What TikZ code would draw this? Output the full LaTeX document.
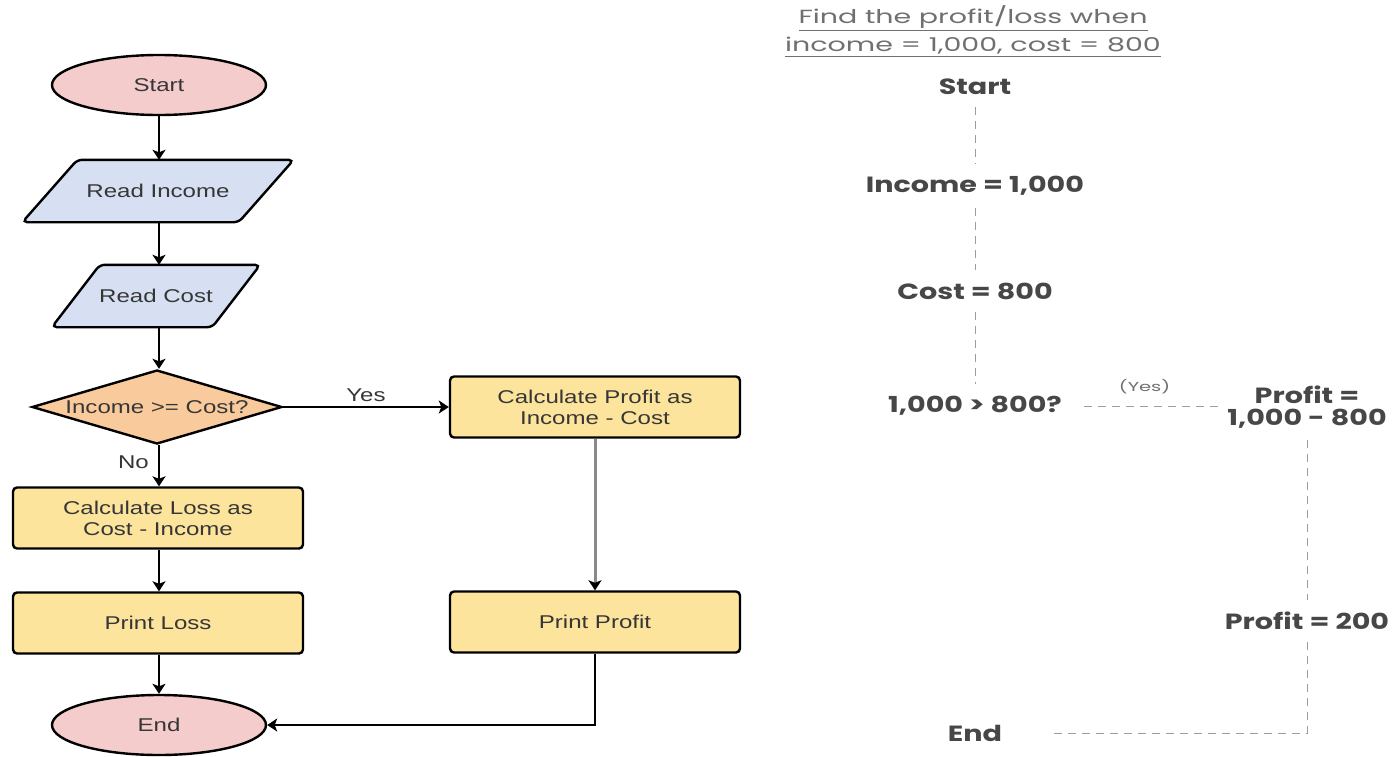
\documentclass[tikz,border=0pt]{standalone}
\usepackage{fontspec}
\setmainfont{Liberation Sans}
\newfontfamily\flowfont{Liberation Sans}[FakeStretch=1.3]
\newfontfamily\tracefont{Poppins}[FakeStretch=1.3]
\newfontfamily\titlefont{Poppins}[FakeStretch=1.5]
\usetikzlibrary{shapes.geometric,arrows.meta,backgrounds}

\definecolor{termfill}{HTML}{F4CCCC}
\definecolor{iofill}{HTML}{D6E0F2}
\definecolor{decfill}{HTML}{F9CB9C}
\definecolor{procfill}{HTML}{FCE49C}
\definecolor{inkdark}{HTML}{363636}
\definecolor{tracetext}{HTML}{474747}
\definecolor{traceline}{HTML}{9C9C9C}
\definecolor{titlegray}{HTML}{707070}
\definecolor{linkgray}{HTML}{8A8A8A}

\tikzset{
  flowtext/.style={font=\flowfont\fontsize{18.5}{21}\selectfont, text=inkdark, align=center},
  terminal/.style={flowtext, ellipse, draw=black, line width=2.4pt, fill=termfill,
    minimum width=214pt, minimum height=60pt, inner sep=0pt},
  iotext/.style={flowtext, rectangle, minimum height=62pt, inner sep=0pt},
  ioshape/.style={draw=black, line width=2.4pt, fill=iofill, rounded corners=5pt},
  decision/.style={flowtext, diamond, draw=black, line width=2.4pt, fill=decfill,
    minimum width=250pt, minimum height=74pt, inner sep=0pt},
  process/.style={flowtext, rectangle, draw=black, line width=2.4pt, fill=procfill,
    rounded corners=4pt, minimum width=290pt, minimum height=61pt, inner sep=0pt},
  flowarrow/.style={draw=black, line width=1.6pt,
    -{Stealth[length=10pt,width=13pt,inset=2.5pt]}},
  flowlabel/.style={font=\flowfont\fontsize{18.5}{21}\selectfont, text=inkdark},
  tracestep/.style={font=\tracefont\bfseries\fontsize{22}{25}\selectfont, text=tracetext,
    align=center, inner xsep=8pt, inner ysep=12pt},
  traceline/.style={draw=traceline, line width=1pt, dash pattern=on 8pt off 6pt},
  tracetitle/.style={font=\titlefont\fontsize{19}{28}\selectfont, text=titlegray, align=center},
  tracenote/.style={font=\titlefont\fontsize{13}{15}\selectfont, text=titlegray},
}

\begin{document}
\begin{tikzpicture}[x=1pt, y=-1pt]
\begin{scope}[on background layer]
  \fill[white] (0,0) rectangle (1392,756);
\end{scope}
\useasboundingbox (0,0) rectangle (1392,756);

% ---- flowchart ----
\node[terminal] (start) at (159,85) {Start};

\node[iotext, minimum width=216pt] (readinc) at (158,191) {Read Income};
\node[iotext, minimum width=160pt] (readcost) at (156,296) {Read Cost};
\begin{scope}[on background layer]
  \draw[ioshape] ([xshift=27.5pt]readinc.north west) -- ([xshift=27.5pt]readinc.north east)
    -- ([xshift=-27.5pt]readinc.south east) -- ([xshift=-27.5pt]readinc.south west) -- cycle;
  \draw[ioshape] ([xshift=24pt]readcost.north west) -- ([xshift=24pt]readcost.north east)
    -- ([xshift=-24pt]readcost.south east) -- ([xshift=-24pt]readcost.south west) -- cycle;
\end{scope}

\node[decision] (decide) at (157,407) {\makebox[0pt]{Income >= Cost?}};
\node[process] (calcloss) at (158,518) {Calculate Loss as\\ Cost - Income};
\node[process] (printloss) at (158,623) {Print Loss};
\node[terminal] (finish) at (159,725) {End};

\node[process] (calcprofit) at (595,407) {Calculate Profit as\\ Income - Cost};
\node[process] (printprofit) at (595,622) {Print Profit};

\draw[flowarrow] (start.south -| 159,0) -- (readinc.north -| 159,0);
\draw[flowarrow] (readinc.south -| 159,0) -- (readcost.north -| 159,0);
\draw[flowarrow] (readcost.south -| 159,0) -- (decide.north -| 159,0);
\draw[flowarrow] (decide.south -| 159,0) -- node[flowlabel, pos=0.42, anchor=east, xshift=-6pt] (nolabel) {No} (calcloss.north -| 159,0);
\draw[flowarrow] (calcloss.south -| 159,0) -- (printloss.north -| 159,0);
\draw[flowarrow] (printloss.south -| 159,0) -- (finish.north -| 159,0);
\draw[flowarrow] (decide.east) -- node[flowlabel, anchor=south, yshift=1pt, pos=0.5] (yeslabel) {Yes} (calcprofit.west);
\draw[draw=linkgray, line width=3pt, -{Stealth[length=10pt,width=13pt,inset=2.5pt,color=black]}]
  (calcprofit) -- (printprofit);
\draw[flowarrow] (printprofit.south) |- (finish.east);

% ---- worked trace ----
\node[tracetitle] (title) at (973,31)
  {\underline{Find the profit/loss when}\\ \underline{income = 1,000, cost = 800}};

\node[tracestep] (tstart) at (975,87) {Start};
\node[tracestep] (tincome) at (975,186) {Income = 1,000};
\node[tracestep] (tcost) at (975,291) {Cost = 800};
\node[tracestep] (tcheck) at (975,406) {1,000 > 800?};
\node[tracestep] (tprofit) at (1307,407) {Profit =\\[-3pt] 1,000 - 800};
\node[tracestep] (tresult) at (1307,621) {Profit = 200};
\node[tracestep] (tend) at (975,733) {End};

\draw[traceline] (tstart) -- (tincome);
\draw[traceline] (tincome) -- (tcost);
\draw[traceline] (tcost) -- (tcheck);
\draw[traceline, shorten <=14pt] (tcheck.east) -- node[tracenote, anchor=south, yshift=8pt] (tyes) {(Yes)} (tprofit.west |- tcheck.east);
\draw[traceline] (tprofit) -- (tresult);
\draw[traceline, shorten >=41pt] (tresult.south) |- (tend.east);
\end{tikzpicture}
\end{document}
